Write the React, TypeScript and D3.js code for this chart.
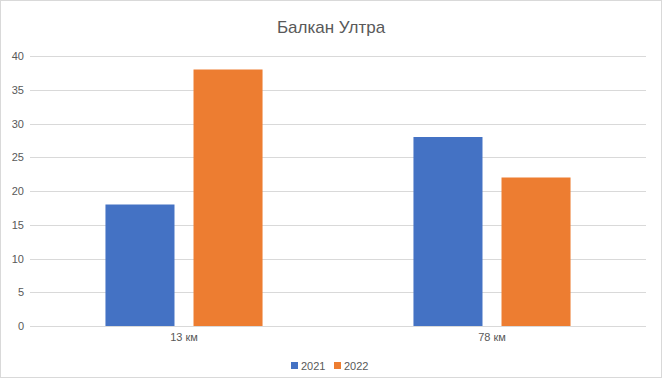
import React from "react";
import * as d3 from "d3";

const categories = ["13 км", "78 км"];
const seriesNames = ["2021", "2022"];
const values2021 = [18, 28];
const values2022 = [38, 22];
const yTicks = [0, 5, 10, 15, 20, 25, 30, 35, 40];
const colors = ["#4472C4", "#ED7D31"];

export default function App() {
  const W = 662, H = 378;
  const left = 30, right = 646, top = 56, bottom = 326;
  const x0 = d3.scaleBand<string>().domain(categories).range([left, right]).paddingInner(0.49).paddingOuter(0.245);
  const x1 = d3.scaleBand<string>().domain(seriesNames).range([0, x0.bandwidth()]).paddingInner(0.216).paddingOuter(0);
  const y = d3.scaleLinear().domain([0, 40]).range([bottom, top]);
  const series = [values2021, values2022];
  const font = "'Liberation Sans', Arial, sans-serif";
  return (
    <svg width={W} height={H} style={{ position: "absolute", left: 0, top: 0 }} fontFamily={font}>
      <rect x={0.5} y={0.5} width={W - 1} height={H - 1} fill="#fff" stroke="#d9d9d9" />
      <text x={W / 2} y={33} textAnchor="middle" fontSize={17} fill="#595959">Балкан Ултра</text>
      {yTicks.map((t) => (
        <g key={t}>
          <line x1={left} x2={right} y1={Math.round(y(t)) + 0.5} y2={Math.round(y(t)) + 0.5} stroke="#d9d9d9" />
          <text x={24} y={y(t) + 4} textAnchor="end" fontSize={11} fill="#595959">{t}</text>
        </g>
      ))}
      {categories.map((c, i) => (
        <g key={c}>
          {series.map((vals, s) => (
            <rect key={s} x={(x0(c) as number) + (x1(seriesNames[s]) as number)} y={y(vals[i])} width={x1.bandwidth()} height={y(0) - y(vals[i])} fill={colors[s]} />
          ))}
          <text x={(x0(c) as number) + x0.bandwidth() / 2} y={341} textAnchor="middle" fontSize={11} fill="#595959">{c}</text>
        </g>
      ))}
      {seriesNames.map((n, s) => (
        <g key={n} transform={`translate(${291 + s * 43},362)`}>
          <rect x={0} y={0} width={7} height={7} fill={colors[s]} />
          <text x={10} y={7.5} fontSize={11} fill="#595959">{n}</text>
        </g>
      ))}
    </svg>
  );
}
